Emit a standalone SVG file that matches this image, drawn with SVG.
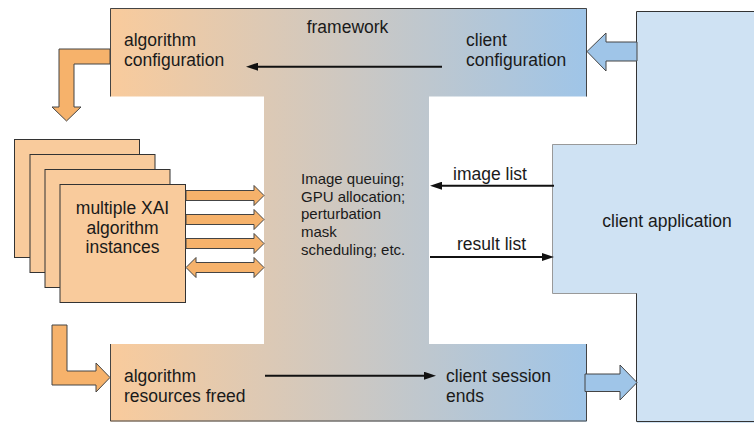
<svg xmlns="http://www.w3.org/2000/svg" width="754" height="423" viewBox="0 0 754 423">
<defs>
<linearGradient id="fw" gradientUnits="userSpaceOnUse" x1="110" y1="0" x2="587" y2="0">
<stop offset="0" stop-color="#f9cb9c"/>
<stop offset="0.5" stop-color="#cdc8c2"/>
<stop offset="1" stop-color="#9fc5e8"/>
</linearGradient>
<marker id="ah" viewBox="0 0 12 8" refX="6" refY="4" markerWidth="12" markerHeight="8" markerUnits="userSpaceOnUse" orient="auto">
<path d="M0,0 L12,4 L0,8 Z" fill="#111"/>
</marker>
</defs>
<style>
text{font-family:"Liberation Sans",Arial,sans-serif;font-size:17.5px;fill:#1a1a1a}
.sm{font-size:15px}
.edge{stroke:#444;stroke-width:1;fill:none}
.card{fill:#f9cb9c;stroke:#333;stroke-width:1}
.oa{fill:#f6b26b;stroke:#444;stroke-width:1}
.ba{fill:#9fc5e8;stroke:#444;stroke-width:1}
.conn{stroke:#111;stroke-width:2;fill:none;marker-end:url(#ah)}
</style>
<g id="framework">
<path d="M110,8 H587 V96.5 H429 V344 H587 V421.5 H110 V344 H264 V96.5 H110 Z" fill="url(#fw)"/>
<path class="edge" d="M110.5,96.5 V8.5 H586.5 V96.5"/>
<path class="edge" d="M110.5,344 V421 H586.5 V344"/>
<text x="347.5" y="33" text-anchor="middle">framework</text>
<text x="124" y="46">algorithm</text>
<text x="124" y="66">configuration</text>
<text x="466" y="46">client</text>
<text x="466" y="66">configuration</text>
<text class="sm" x="301" y="184">Image queuing;</text>
<text class="sm" x="301" y="201.7">GPU allocation;</text>
<text class="sm" x="301" y="219.4">perturbation</text>
<text class="sm" x="301" y="237.1">mask</text>
<text class="sm" x="301" y="254.8">scheduling; etc.</text>
<text x="124" y="382">algorithm</text>
<text x="124" y="402">resources freed</text>
<text x="446" y="382">client session</text>
<text x="446" y="402">ends</text>
</g>
<g id="client-application">
<path d="M637,11 H756 V425 H637 V293 H552 V144 H637 Z" fill="#cfe2f3"/>
<path d="M636.5,144 V11.5 H756 M756,421.5 H636.5 V293" stroke="#333" stroke-width="1" fill="none"/>
<path d="M636.5,293.5 H552.5 V144.5 H636.5" stroke="#999" stroke-width="1" fill="none"/>
<text x="667" y="227" text-anchor="middle">client application</text>
</g>
<g id="algorithm-instances">
<rect class="card" x="14.5" y="139.5" width="125" height="118"/>
<rect class="card" x="30" y="154.5" width="125" height="118"/>
<rect class="card" x="45" y="169.5" width="125" height="118"/>
<rect class="card" x="60" y="184.5" width="125.5" height="118"/>
<text x="122.5" y="214" text-anchor="middle">multiple XAI</text>
<text x="122.5" y="233.5" text-anchor="middle">algorithm</text>
<text x="122.5" y="253" text-anchor="middle">instances</text>
</g>
<g id="connectors">
<path class="oa" d="M186,190.5 H254 V185.5 L264,195.5 L254,205.5 V200.5 H186 Z"/>
<path class="oa" d="M186,214.5 H254 V209.5 L264,219.5 L254,229.5 V224.5 H186 Z"/>
<path class="oa" d="M186,238.5 H254 V233.5 L264,243.5 L254,253.5 V248.5 H186 Z"/>
<path class="oa" d="M196,262.5 H254 V257.5 L264,267.5 L254,277.5 V272.5 H196 V277.5 L186,267.5 L196,257.5 Z"/>
<path class="oa" d="M110,49 H59 V107 H52 L66.5,121 L81,107 H74 V64 H110 Z"/>
<path class="oa" d="M52,325 H67 V371 H96 V363 L110,377.5 L96,392 V385 H52 Z"/>
<path class="ba" d="M637,42 H606 V33 L587,51.5 L606,71 V61 H637 Z"/>
<path class="ba" d="M585,374 H620 V365 L637,382.5 L620,400 V391.5 H585 Z"/>
<line class="conn" x1="442" y1="66.7" x2="252" y2="66.7"/>
<line class="conn" x1="554" y1="185.7" x2="436" y2="185.7"/>
<line class="conn" x1="430" y1="257" x2="548" y2="257"/>
<line class="conn" x1="265" y1="375.7" x2="430" y2="375.7"/>
<text x="453" y="179.5">image list</text>
<text x="457" y="250">result list</text>
</g>
</svg>
